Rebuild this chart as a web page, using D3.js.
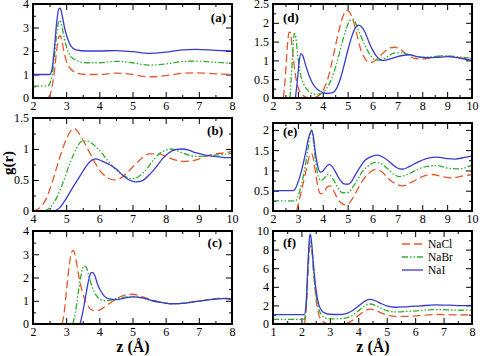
<!DOCTYPE html>
<html>
<head>
<meta charset="utf-8">
<script src="https://cdn.jsdelivr.net/npm/d3@7"></script>
<style>
  body { margin: 0; background: #fff; }
  svg { display: block; }
  text { font-family: "Liberation Serif", "Times New Roman", Times, "DejaVu Serif", serif; }
  .tick text { font-size: 12px; fill: #000; }
  .domain { display: none; }
  .tick line { stroke: #000; stroke-width: 1; }
</style>
</head>
<body>
<script>
var w = 480;
var h = 356;
const serif = "'Liberation Serif', 'Times New Roman', Times, serif";

const seriesNames = ["NaCl", "NaBr", "NaI"];
const colors = ["#e4572a", "#2eae2e", "#3a3ad0"];
const dashes = ["8,4", "6,2,1.5,2,1.5,2", null];

// panel (a)
const a_NaCl = [[2.45,0],[2.55,0.3],[2.65,1.2],[2.72,2.1],[2.78,2.6],[2.82,2.65],[2.87,2.45],[2.93,2.0],[3.0,1.6],[3.1,1.3],[3.2,1.15],[3.35,1.05],[3.6,1.0],[4.0,1.0],[4.5,1.06],[5.0,1.0],[5.5,0.9],[6.0,0.95],[6.5,1.05],[6.9,1.07],[7.5,1.03],[8.0,1.0]];
const a_NaBr = [[2,0.5],[2.45,0.52],[2.55,0.8],[2.65,1.8],[2.72,2.8],[2.78,3.25],[2.82,3.3],[2.88,3.0],[2.95,2.5],[3.05,2.0],[3.15,1.75],[3.3,1.6],[3.6,1.5],[4.0,1.5],[4.5,1.56],[5.0,1.5],[5.5,1.4],[6.0,1.45],[6.5,1.55],[6.9,1.57],[7.5,1.52],[8.0,1.48]];
const a_NaI = [[2,1.0],[2.5,1.0],[2.57,1.2],[2.65,2.2],[2.72,3.3],[2.78,3.8],[2.82,3.82],[2.88,3.5],[2.95,3.0],[3.05,2.5],[3.15,2.2],[3.3,2.05],[3.6,2.0],[4.0,2.0],[4.5,2.02],[5.0,1.97],[5.5,1.9],[6.0,1.95],[6.5,2.05],[6.9,2.07],[7.5,2.03],[8.0,2.0]];

// panel (b)
const b_NaCl = [[4.0,0],[4.2,0.05],[4.4,0.2],[4.6,0.5],[4.8,0.85],[5.0,1.15],[5.15,1.3],[5.25,1.33],[5.35,1.28],[5.5,1.15],[5.7,0.95],[5.9,0.75],[6.1,0.6],[6.3,0.52],[6.5,0.5],[6.7,0.55],[6.9,0.65],[7.1,0.76],[7.3,0.86],[7.5,0.92],[7.8,0.92],[8.0,0.88],[8.3,0.82],[8.6,0.8],[8.9,0.82],[9.2,0.88],[9.5,0.92],[9.8,0.94],[10,0.96]];
const b_NaBr = [[4.35,0],[4.5,0.05],[4.7,0.2],[4.9,0.45],[5.1,0.75],[5.3,1.0],[5.45,1.12],[5.6,1.13],[5.8,1.08],[6.0,0.98],[6.2,0.85],[6.4,0.72],[6.6,0.62],[6.8,0.55],[7.0,0.52],[7.2,0.56],[7.4,0.66],[7.6,0.8],[7.8,0.92],[8.0,0.98],[8.15,1.0],[8.4,0.96],[8.7,0.9],[9.0,0.88],[9.4,0.9],[9.7,0.91],[10,0.93]];
const b_NaI = [[4.65,0],[4.8,0.05],[5.0,0.2],[5.2,0.38],[5.4,0.55],[5.6,0.72],[5.8,0.83],[5.9,0.84],[6.1,0.8],[6.3,0.75],[6.5,0.68],[6.7,0.58],[6.9,0.5],[7.1,0.47],[7.3,0.49],[7.5,0.58],[7.7,0.7],[7.9,0.84],[8.1,0.94],[8.3,0.99],[8.5,1.0],[8.7,0.98],[8.9,0.94],[9.2,0.9],[9.5,0.88],[9.8,0.86],[10,0.86]];

// panel (c)
const c_NaCl = [[2.88,0],[2.95,0.6],[3.02,1.6],[3.1,2.6],[3.17,3.1],[3.22,3.15],[3.28,2.9],[3.35,2.3],[3.45,1.6],[3.55,1.1],[3.65,0.8],[3.75,0.62],[3.85,0.57],[4.0,0.6],[4.2,0.78],[4.4,0.98],[4.6,1.15],[4.8,1.25],[5.0,1.28],[5.2,1.22],[5.5,1.08],[5.8,0.95],[6.1,0.88],[6.4,0.88],[6.8,0.95],[7.2,1.03],[7.6,1.1],[8.0,1.05]];
const c_NaBr = [[3.2,0],[3.28,0.5],[3.36,1.3],[3.45,2.1],[3.53,2.5],[3.6,2.45],[3.68,2.1],[3.78,1.6],[3.9,1.25],[4.0,1.08],[4.15,1.0],[4.3,1.02],[4.6,1.12],[5.0,1.18],[5.3,1.12],[5.6,1.0],[5.9,0.92],[6.2,0.87],[6.6,0.9],[7.0,0.98],[7.5,1.07],[7.8,1.1],[8.0,1.07]];
const c_NaI = [[3.42,0],[3.5,0.5],[3.6,1.3],[3.68,1.9],[3.75,2.2],[3.8,2.22],[3.87,2.05],[3.95,1.7],[4.05,1.4],[4.15,1.2],[4.3,1.08],[4.5,1.05],[4.8,1.12],[5.0,1.17],[5.3,1.12],[5.6,1.0],[5.9,0.92],[6.2,0.87],[6.6,0.9],[7.0,0.98],[7.5,1.07],[7.8,1.1],[8.0,1.08]];

// panel (d)
const d_NaCl = [[2.42,0],[2.5,0.6],[2.58,1.4],[2.65,1.75],[2.7,1.74],[2.78,1.3],[2.88,0.7],[3.0,0.3],[3.15,0.1],[3.3,0.03],[3.5,0.0],[3.7,0.02],[3.9,0.1],[4.05,0.25],[4.2,0.5],[4.35,0.9],[4.5,1.35],[4.65,1.8],[4.8,2.15],[4.95,2.33],[5.05,2.3],[5.2,2.1],[5.35,1.75],[5.5,1.35],[5.65,1.1],[5.8,0.97],[5.95,0.95],[6.15,1.02],[6.4,1.18],[6.7,1.33],[6.9,1.35],[7.1,1.3],[7.4,1.15],[7.7,1.05],[8.0,1.04],[8.4,1.08],[8.8,1.12],[9.2,1.1],[9.6,1.06],[10,1.05]];
const d_NaBr = [[2.68,0],[2.74,0.6],[2.8,1.3],[2.86,1.72],[2.92,1.6],[3.0,1.1],[3.1,0.65],[3.25,0.35],[3.45,0.17],[3.7,0.1],[3.95,0.12],[4.15,0.25],[4.35,0.5],[4.55,0.9],[4.75,1.4],[4.95,1.85],[5.1,2.07],[5.2,2.1],[5.35,1.95],[5.5,1.7],[5.7,1.4],[5.9,1.15],[6.1,1.02],[6.3,1.0],[6.6,1.1],[6.9,1.2],[7.2,1.2],[7.5,1.15],[7.9,1.08],[8.4,1.1],[8.9,1.12],[9.4,1.1],[10,1.05]];
const d_NaI = [[2.9,0],[2.97,0.4],[3.05,0.95],[3.12,1.18],[3.2,1.12],[3.3,0.9],[3.45,0.6],[3.6,0.38],[3.8,0.22],[4.0,0.15],[4.2,0.12],[4.4,0.14],[4.55,0.25],[4.7,0.5],[4.85,0.85],[5.0,1.25],[5.15,1.6],[5.3,1.85],[5.42,1.94],[5.55,1.9],[5.7,1.75],[5.85,1.5],[6.0,1.28],[6.2,1.08],[6.4,1.0],[6.6,1.02],[6.9,1.08],[7.2,1.13],[7.5,1.15],[7.8,1.1],[8.2,1.07],[8.6,1.08],[9.0,1.1],[9.5,1.06],[10,1.0]];

// panel (e)
const e_NaCl = [[2.95,0],[3.05,0.25],[3.2,0.65],[3.35,1.05],[3.48,1.38],[3.55,1.42],[3.62,1.3],[3.72,0.9],[3.82,0.55],[3.92,0.42],[4.05,0.48],[4.2,0.6],[4.3,0.62],[4.45,0.48],[4.6,0.3],[4.8,0.17],[4.95,0.15],[5.1,0.22],[5.3,0.42],[5.5,0.65],[5.8,0.9],[6.1,1.02],[6.35,0.98],[6.6,0.82],[6.9,0.68],[7.2,0.62],[7.6,0.72],[8.0,0.85],[8.4,0.9],[8.8,0.85],[9.2,0.82],[9.6,0.86],[10,0.9]];
const e_NaBr = [[2,0.25],[2.9,0.25],[3.0,0.35],[3.1,0.55],[3.25,0.95],[3.4,1.5],[3.5,1.9],[3.57,2.02],[3.63,1.7],[3.72,1.2],[3.82,0.85],[3.92,0.75],[4.05,0.8],[4.2,0.9],[4.3,0.88],[4.45,0.75],[4.6,0.58],[4.8,0.45],[5.0,0.45],[5.2,0.58],[5.4,0.78],[5.6,0.98],[5.85,1.12],[6.1,1.2],[6.3,1.18],[6.6,1.05],[6.9,0.88],[7.1,0.85],[7.4,0.9],[7.8,1.02],[8.2,1.1],[8.6,1.12],[9.0,1.06],[9.4,1.04],[9.8,1.08],[10,1.13]];
const e_NaI = [[2,0.5],[2.8,0.5],[2.9,0.55],[3.0,0.7],[3.15,1.0],[3.3,1.4],[3.45,1.85],[3.55,1.97],[3.62,1.85],[3.7,1.45],[3.8,1.1],[3.9,0.96],[4.0,0.98],[4.15,1.1],[4.28,1.15],[4.4,1.08],[4.55,0.92],[4.7,0.76],[4.85,0.67],[5.0,0.66],[5.15,0.72],[5.3,0.88],[5.5,1.08],[5.7,1.25],[5.9,1.33],[6.2,1.38],[6.5,1.3],[6.8,1.15],[7.0,1.06],[7.2,1.03],[7.5,1.1],[7.8,1.2],[8.2,1.3],[8.6,1.33],[9.0,1.29],[9.3,1.28],[9.7,1.32],[10,1.36]];

// panel (f)
const f_NaCl = [[2.1,0],[2.17,1.5],[2.23,5.5],[2.29,8.2],[2.33,8.4],[2.38,7.5],[2.45,4.8],[2.53,2.3],[2.62,0.9],[2.75,0.3],[2.9,0.05],[3.2,0],[3.5,0.02],[3.8,0.4],[4.0,0.9],[4.2,1.35],[4.4,1.6],[4.6,1.5],[4.8,1.2],[5.0,0.98],[5.3,0.82],[5.7,0.82],[6.2,0.92],[6.7,1.02],[7.2,1.0],[7.6,0.97],[8.0,1.0]];
const f_NaBr = [[1,0.5],[2.1,0.5],[2.17,2.0],[2.23,6.0],[2.29,8.7],[2.32,9.0],[2.36,8.3],[2.43,5.5],[2.52,3.0],[2.62,1.5],[2.75,0.85],[2.9,0.6],[3.2,0.55],[3.5,0.6],[3.8,0.95],[4.0,1.4],[4.2,1.9],[4.4,2.15],[4.6,2.0],[4.8,1.7],[5.0,1.45],[5.3,1.3],[5.7,1.35],[6.2,1.45],[6.7,1.55],[7.2,1.52],[7.6,1.48],[8.0,1.5]];
const f_NaI = [[1,1.0],[2.1,1.0],[2.17,2.5],[2.23,6.5],[2.28,9.2],[2.31,9.65],[2.35,9.0],[2.42,6.5],[2.5,4.0],[2.6,2.2],[2.7,1.5],[2.85,1.15],[3.0,1.05],[3.3,1.02],[3.6,1.15],[3.8,1.45],[4.0,1.9],[4.2,2.4],[4.4,2.65],[4.6,2.5],[4.8,2.2],[5.0,1.95],[5.3,1.8],[5.7,1.85],[6.2,1.95],[6.7,2.05],[7.2,2.02],[7.6,1.98],[8.0,2.0]];

// panel layout: pixel box, axis domains, tick steps, label
const panels = [
  {id: "a", box: [33, 232, 4, 98],   x: [2, 8],  y: [0, 4],   xs: 1, xm: 0.5, ys: 1,   ym: 0.5,  data: [a_NaCl, a_NaBr, a_NaI], lab: [226, 22, "end"]},
  {id: "b", box: [33, 232, 118, 211], x: [4, 10], y: [0, 1.5], xs: 1, xm: 0.5, ys: 0.5, ym: 0.25, data: [b_NaCl, b_NaBr, b_NaI], lab: [223, 135, "end"]},
  {id: "c", box: [33, 232, 231, 324], x: [2, 8],  y: [0, 4],   xs: 1, xm: 0.5, ys: 1,   ym: 0.5,  data: [c_NaCl, c_NaBr, c_NaI], lab: [222, 247, "end"]},
  {id: "d", box: [273, 472, 4, 98],  x: [2, 10], y: [0, 2.5], xs: 1, xm: 0.5, ys: 0.5, ym: 0.25, data: [d_NaCl, d_NaBr, d_NaI], lab: [283, 22, "start"]},
  {id: "e", box: [273, 472, 123, 211], x: [2, 10], y: [0, 2.17], xs: 1, xm: 0.5, ys: 0.5, ym: 0.25, data: [e_NaCl, e_NaBr, e_NaI], lab: [283, 136, "start"]},
  {id: "f", box: [273, 472, 231, 324], x: [1, 8],  y: [0, 10],  xs: 1, xm: 0.5, ys: 2,   ym: 1,    data: [f_NaCl, f_NaBr, f_NaI], lab: [283, 247, "start"]}
];

const steps = (lo, hi, s) => d3.range(Math.round(lo / s), Math.round(hi / s) + 1).map(i => +(i * s).toFixed(4)).filter(v => v >= lo - 1e-9 && v <= hi + 1e-9);

var svg = d3.select("body")
            .append("svg")
            .attr("width", w)
            .attr("height", h);

panels.forEach(p => {
    const [x0, x1, y0, y1] = p.box;
    const xScale = d3.scaleLinear().domain(p.x).range([x0, x1]);
    const yScale = d3.scaleLinear().domain(p.y).range([y1, y0]);

    const g = svg.append("g");

    svg.append("clipPath")
        .attr("id", "clip-" + p.id)
        .append("rect")
        .attr("x", x0).attr("y", y0)
        .attr("width", x1 - x0).attr("height", y1 - y0);

    const major = steps(p.x[0], p.x[1], p.xs);
    const minor = steps(p.x[0], p.x[1], p.xm).filter(v => !major.includes(v));
    const ymajor = steps(p.y[0], p.y[1], p.ys);
    const yminor = steps(p.y[0], p.y[1], p.ym).filter(v => !ymajor.includes(v));

    // bottom axis with labels, ticks pointing inward
    g.append("g").attr("transform", `translate(0,${y1})`)
        .call(d3.axisBottom(xScale).tickValues(major).tickSize(-6).tickPadding(3).tickFormat(d => d));
    g.append("g").attr("transform", `translate(0,${y1})`)
        .call(d3.axisBottom(xScale).tickValues(minor).tickSize(-3).tickFormat(""));
    g.append("g").attr("transform", `translate(0,${y0})`)
        .call(d3.axisTop(xScale).tickValues(major).tickSize(-6).tickFormat(""));
    g.append("g").attr("transform", `translate(0,${y0})`)
        .call(d3.axisTop(xScale).tickValues(minor).tickSize(-3).tickFormat(""));

    g.append("g").attr("transform", `translate(${x0},0)`)
        .call(d3.axisLeft(yScale).tickValues(ymajor).tickSize(-6).tickPadding(4).tickFormat(d => d));
    g.append("g").attr("transform", `translate(${x0},0)`)
        .call(d3.axisLeft(yScale).tickValues(yminor).tickSize(-3).tickFormat(""));
    g.append("g").attr("transform", `translate(${x1},0)`)
        .call(d3.axisRight(yScale).tickValues(ymajor).tickSize(-6).tickFormat(""));
    g.append("g").attr("transform", `translate(${x1},0)`)
        .call(d3.axisRight(yScale).tickValues(yminor).tickSize(-3).tickFormat(""));

    // d3 axes set a sans-serif family on their groups; use serif like the reference
    g.selectAll("g").attr("font-family", serif).attr("font-size", 12);

    const line = d3.line()
        .x(d => xScale(d[0]))
        .y(d => yScale(d[1]))
        .curve(d3.curveMonotoneX);

    p.data.forEach((s, i) => {
        g.append("path")
            .datum(s)
            .attr("clip-path", `url(#clip-${p.id})`)
            .attr("fill", "none")
            .attr("stroke", colors[i])
            .attr("stroke-width", 1.3)
            .attr("stroke-dasharray", dashes[i])
            .attr("d", line);
    });

    // frame
    g.append("rect")
        .attr("x", x0).attr("y", y0)
        .attr("width", x1 - x0).attr("height", y1 - y0)
        .attr("fill", "none")
        .attr("stroke", "#000")
        .attr("stroke-width", 2);

    g.append("text")
        .attr("x", p.lab[0]).attr("y", p.lab[1])
        .attr("text-anchor", p.lab[2])
        .style("font-weight", "bold")
        .style("font-size", "13px")
        .text(`(${p.id})`);
});

// legend in panel (f)
const legendY = [244, 257, 270];
seriesNames.forEach((n, i) => {
    svg.append("line")
        .attr("x1", 402).attr("x2", 423)
        .attr("y1", legendY[i]).attr("y2", legendY[i])
        .attr("stroke", colors[i])
        .attr("stroke-width", 1.3)
        .attr("stroke-dasharray", dashes[i]);
    svg.append("text")
        .attr("x", 428).attr("y", legendY[i] + 4)
        .style("font-size", "11.5px")
        .text(n);
});

// axis titles
svg.append("text")
    .attr("transform", "translate(13,163) rotate(-90)")
    .attr("text-anchor", "middle")
    .style("font-weight", "bold")
    .style("font-size", "15px")
    .text("g(r)");

[133, 373].forEach(cx => {
    svg.append("text")
        .attr("x", cx).attr("y", 352)
        .attr("text-anchor", "middle")
        .style("font-weight", "bold")
        .style("font-size", "16px")
        .text("z (Å)");
});
</script>
</body>
</html>
